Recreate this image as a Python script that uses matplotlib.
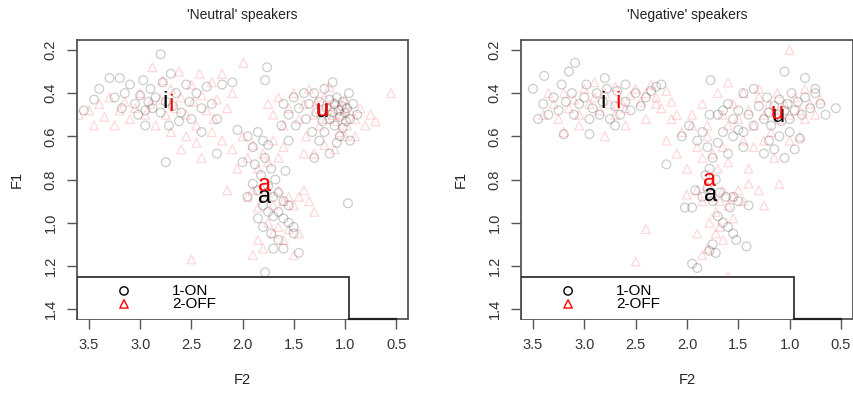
import matplotlib
matplotlib.use("Agg")
import matplotlib.pyplot as plt
from matplotlib.patches import Rectangle

plt.rcParams["font.family"] = ["Liberation Sans", "DejaVu Sans"]

PANEL_TITLES = ["'Neutral' speakers", "'Negative' speakers"]
GROUPS = ["1-ON", "2-OFF"]
VOWELS = ["i", "u", "a"]

# (F2, F1) pairs, per panel / group / vowel
NEU_ON_I = [(3.40, 0.38), (3.30, 0.33), (3.25, 0.42), (3.20, 0.33), (3.18, 0.47), (3.15, 0.40),
            (3.10, 0.36), (3.05, 0.45), (3.02, 0.50), (3.00, 0.41), (2.97, 0.34), (2.95, 0.55),
            (2.92, 0.44), (2.90, 0.38), (2.88, 0.47), (2.85, 0.42), (2.80, 0.22), (2.80, 0.49),
            (2.78, 0.35), (2.75, 0.44), (2.72, 0.55), (2.70, 0.31), (2.68, 0.46), (2.65, 0.40),
            (2.60, 0.49), (2.55, 0.36), (2.52, 0.44), (2.50, 0.52), (2.45, 0.40), (2.40, 0.47),
            (2.35, 0.37), (2.30, 0.45), (2.25, 0.52), (2.20, 0.36), (2.10, 0.35), (3.55, 0.48),
            (2.75, 0.72), (3.45, 0.43), (2.62, 0.53), (2.95, 0.48)]
NEU_ON_U = [(1.60, 0.45), (1.55, 0.50), (1.50, 0.42), (1.48, 0.55), (1.45, 0.47), (1.40, 0.40),
            (1.38, 0.52), (1.35, 0.45), (1.32, 0.58), (1.30, 0.40), (1.28, 0.49), (1.25, 0.44),
            (1.22, 0.53), (1.20, 0.38), (1.18, 0.47), (1.15, 0.43), (1.15, 0.52), (1.12, 0.49),
            (1.10, 0.45), (1.10, 0.55), (1.08, 0.42), (1.06, 0.48), (1.05, 0.51), (1.03, 0.46),
            (1.02, 0.44), (1.00, 0.49), (0.98, 0.47), (0.96, 0.40), (0.95, 0.52), (0.92, 0.45),
            (0.88, 0.50), (1.25, 0.62), (1.15, 0.68), (1.05, 0.60), (0.95, 0.62), (1.30, 0.70),
            (1.12, 0.35), (1.08, 0.63), (1.20, 0.58), (1.02, 0.56), (0.99, 0.53)]
NEU_ON_A = [(2.05, 0.57), (1.95, 0.60), (1.90, 0.65), (1.85, 0.58), (1.80, 0.62), (1.78, 0.70),
            (1.75, 0.64), (1.72, 0.75), (1.82, 0.78), (1.90, 0.82), (1.95, 0.88), (1.85, 0.85),
            (1.75, 0.83), (1.70, 0.88), (1.65, 0.86), (1.60, 0.90), (1.55, 0.92), (1.80, 0.92),
            (1.75, 0.95), (1.70, 0.97), (1.65, 0.95), (1.60, 0.98), (1.55, 1.00), (1.50, 1.02),
            (1.85, 0.98), (1.80, 1.02), (1.72, 1.05), (1.65, 1.08), (1.60, 1.12), (1.50, 1.05),
            (1.45, 1.14), (1.78, 1.23), (1.70, 1.12), (2.25, 0.68), (2.40, 0.58), (1.62, 0.55),
            (1.55, 0.62), (1.58, 0.76), (0.97, 0.91), (1.88, 0.73), (2.00, 0.72), (1.68, 0.80),
            (1.76, 0.28), (1.78, 0.34)]
NEU_OFF_I = [(3.60, 0.50), (3.50, 0.48), (3.45, 0.55), (3.40, 0.45), (3.35, 0.51), (3.30, 0.42),
             (3.25, 0.55), (3.20, 0.48), (3.15, 0.44), (3.10, 0.52), (3.05, 0.47), (3.00, 0.40),
             (2.95, 0.50), (2.90, 0.45), (2.85, 0.55), (2.80, 0.43), (2.75, 0.50), (2.70, 0.38),
             (2.65, 0.47), (2.60, 0.42), (2.55, 0.50), (2.50, 0.36), (2.48, 0.44), (2.45, 0.55),
             (2.42, 0.31), (2.40, 0.41), (2.35, 0.48), (2.30, 0.35), (2.28, 0.52), (2.25, 0.43),
             (2.20, 0.31), (2.15, 0.47), (2.10, 0.40), (2.62, 0.30), (2.78, 0.34), (2.88, 0.28),
             (2.55, 0.60), (2.70, 0.58), (2.45, 0.63)]
NEU_OFF_U = [(1.75, 0.45), (1.70, 0.50), (1.65, 0.42), (1.60, 0.55), (1.55, 0.47), (1.50, 0.40),
             (1.45, 0.52), (1.40, 0.45), (1.38, 0.60), (1.35, 0.38), (1.30, 0.50), (1.28, 0.44),
             (1.25, 0.55), (1.22, 0.48), (1.20, 0.42), (1.18, 0.52), (1.15, 0.46), (1.12, 0.50),
             (1.10, 0.44), (1.08, 0.53), (1.05, 0.47), (1.02, 0.50), (1.00, 0.43), (0.98, 0.55),
             (0.95, 0.48), (0.90, 0.52), (0.85, 0.47), (0.80, 0.55), (0.75, 0.50), (0.70, 0.53),
             (1.20, 0.64), (1.10, 0.66), (1.00, 0.60), (1.30, 0.68), (0.55, 0.40), (1.15, 0.37),
             (0.90, 0.60), (1.40, 0.68), (1.05, 0.58)]
NEU_OFF_A = [(2.30, 0.58), (2.20, 0.62), (2.10, 0.66), (2.05, 0.75), (2.00, 0.60), (1.95, 0.70),
             (1.90, 0.64), (1.85, 0.75), (1.80, 0.68), (1.75, 0.72), (1.70, 0.62), (1.65, 0.70),
             (1.60, 0.65), (1.95, 0.88), (1.90, 0.85), (1.85, 0.93), (1.80, 0.88), (1.75, 0.86),
             (1.70, 0.92), (1.65, 0.85), (1.60, 0.90), (1.55, 0.88), (1.50, 0.92), (1.45, 0.88),
             (1.40, 0.85), (1.35, 0.90), (1.30, 0.95), (1.75, 1.00), (1.70, 1.05), (1.65, 1.02),
             (1.60, 1.08), (1.55, 1.03), (1.85, 1.08), (1.80, 1.12), (1.90, 1.15), (1.50, 1.15),
             (2.50, 1.17), (1.99, 0.26), (2.15, 0.85), (1.45, 1.05), (2.40, 0.70), (2.60, 0.66)]

NEG_ON_I = [(3.50, 0.38), (3.40, 0.45), (3.35, 0.50), (3.30, 0.42), (3.25, 0.48), (3.22, 0.36),
            (3.18, 0.44), (3.15, 0.30), (3.12, 0.40), (3.10, 0.50), (3.05, 0.45), (3.00, 0.42),
            (2.98, 0.36), (2.95, 0.52), (2.92, 0.47), (2.88, 0.40), (2.85, 0.50), (2.82, 0.44),
            (2.78, 0.38), (2.75, 0.52), (2.70, 0.46), (2.68, 0.39), (2.65, 0.50), (2.60, 0.44),
            (2.55, 0.48), (2.50, 0.40), (2.45, 0.46), (2.40, 0.42), (2.35, 0.39), (2.30, 0.37),
            (2.25, 0.36), (3.09, 0.26), (3.20, 0.59), (2.95, 0.59), (2.70, 0.55), (3.45, 0.52),
            (2.80, 0.33), (2.60, 0.36), (3.39, 0.32)]
NEG_ON_U = [(1.70, 0.50), (1.60, 0.45), (1.55, 0.52), (1.50, 0.48), (1.45, 0.40), (1.40, 0.50),
            (1.35, 0.55), (1.30, 0.46), (1.25, 0.52), (1.22, 0.42), (1.20, 0.49), (1.18, 0.55),
            (1.15, 0.46), (1.12, 0.50), (1.10, 0.43), (1.08, 0.53), (1.05, 0.48), (1.02, 0.45),
            (1.00, 0.52), (0.98, 0.40), (0.95, 0.48), (0.92, 0.44), (0.88, 0.50), (0.85, 0.42),
            (0.80, 0.47), (0.75, 0.38), (0.70, 0.45), (0.65, 0.50), (0.55, 0.47), (1.05, 0.30),
            (0.85, 0.33), (1.10, 0.60), (1.00, 0.58), (0.90, 0.61), (1.15, 0.66), (1.05, 0.70),
            (1.25, 0.68), (0.95, 0.66), (1.45, 0.58), (0.75, 0.40), (1.20, 0.62), (1.35, 0.38)]
NEG_ON_A = [(2.05, 0.60), (1.98, 0.55), (1.90, 0.62), (1.85, 0.58), (1.80, 0.65), (1.75, 0.70),
            (1.70, 0.63), (1.65, 0.58), (1.60, 0.68), (1.55, 0.60), (1.50, 0.57), (1.45, 0.65),
            (1.82, 0.78), (1.78, 0.75), (1.72, 0.80), (1.92, 0.85), (1.85, 0.88), (1.80, 0.84),
            (1.75, 0.90), (1.68, 0.86), (1.62, 0.88), (1.58, 0.93), (1.55, 0.88), (1.50, 0.90),
            (1.95, 0.93), (2.02, 0.93), (1.70, 0.97), (1.65, 1.00), (1.60, 1.02), (1.55, 1.05),
            (1.52, 1.08), (1.42, 1.11), (1.75, 1.10), (1.72, 1.14), (1.78, 1.13), (1.95, 1.19),
            (1.90, 1.21), (1.78, 0.50), (1.65, 0.48), (2.20, 0.73), (1.40, 0.92), (1.77, 0.34)]
NEG_OFF_I = [(3.40, 0.50), (3.30, 0.45), (3.25, 0.52), (3.20, 0.40), (3.15, 0.47), (3.10, 0.43),
             (3.05, 0.50), (3.00, 0.38), (2.95, 0.45), (2.90, 0.42), (2.85, 0.48), (2.80, 0.40),
             (2.75, 0.45), (2.70, 0.37), (2.65, 0.43), (2.60, 0.47), (2.55, 0.41), (2.50, 0.38),
             (2.45, 0.44), (2.40, 0.40), (2.35, 0.36), (2.30, 0.42), (2.25, 0.47), (2.20, 0.39),
             (2.15, 0.44), (2.10, 0.50), (3.20, 0.58), (3.05, 0.55), (2.90, 0.35), (2.60, 0.55),
             (2.40, 0.52), (2.80, 0.60), (3.35, 0.40), (2.70, 0.50)]
NEG_OFF_U = [(1.95, 0.50), (1.85, 0.45), (1.80, 0.55), (1.70, 0.40), (1.65, 0.50), (1.60, 0.55),
             (1.55, 0.45), (1.50, 0.52), (1.45, 0.40), (1.40, 0.48), (1.35, 0.55), (1.30, 0.42),
             (1.25, 0.50), (1.20, 0.45), (1.18, 0.58), (1.15, 0.48), (1.12, 0.40), (1.10, 0.52),
             (1.05, 0.45), (1.00, 0.50), (0.95, 0.42), (0.90, 0.48), (0.85, 0.52), (0.80, 0.45),
             (0.75, 0.50), (0.70, 0.43), (1.35, 0.65), (1.25, 0.62), (1.15, 0.70), (1.00, 0.62),
             (0.90, 0.60), (1.40, 0.75), (1.10, 0.82), (1.00, 0.20), (1.30, 0.38), (1.60, 0.35),
             (0.85, 0.38), (1.45, 0.62)]
NEG_OFF_A = [(2.30, 0.45), (2.15, 0.52), (2.05, 0.58), (1.95, 0.55), (1.90, 0.65), (1.85, 0.70),
             (1.80, 0.60), (1.75, 0.68), (1.70, 0.75), (1.65, 0.65), (1.60, 0.72), (2.10, 0.68),
             (2.00, 0.75), (1.90, 0.85), (1.85, 0.90), (1.80, 0.83), (1.75, 0.88), (1.72, 0.95),
             (1.68, 0.90), (1.65, 0.85), (1.60, 0.92), (1.55, 0.88), (1.50, 0.85), (1.45, 0.90),
             (1.40, 0.82), (1.30, 0.85), (1.25, 0.92), (1.78, 1.00), (1.72, 1.05), (1.68, 1.02),
             (1.65, 1.08), (1.80, 1.12), (1.85, 1.15), (1.90, 1.05), (1.55, 0.98), (2.40, 1.03),
             (2.50, 1.18), (1.60, 1.25), (2.00, 0.87), (2.20, 0.62)]

# vowel label positions (mean F2, F1) per panel, group order ON, OFF; vowel order i, u, a
NEU_MEANS_ON = [(2.76, 0.44), (1.22, 0.485), (1.78, 0.88)]
NEU_MEANS_OFF = [(2.70, 0.455), (1.22, 0.48), (1.78, 0.825)]
NEG_MEANS_ON = [(2.82, 0.44), (1.11, 0.505), (1.77, 0.87)]
NEG_MEANS_OFF = [(2.67, 0.44), (1.12, 0.49), (1.78, 0.80)]

PANELS = [
    ([NEU_ON_I + NEU_ON_U + NEU_ON_A, NEU_OFF_I + NEU_OFF_U + NEU_OFF_A], [NEU_MEANS_ON, NEU_MEANS_OFF]),
    ([NEG_ON_I + NEG_ON_U + NEG_ON_A, NEG_OFF_I + NEG_OFF_U + NEG_OFF_A], [NEG_MEANS_ON, NEG_MEANS_OFF]),
]

COLORS = ["black", "red"]
MARKERS = ["o", "^"]
ALPHAS = [0.2, 0.15]
XTICKS = [3.5, 3.0, 2.5, 2.0, 1.5, 1.0, 0.5]
YTICKS = [0.2, 0.4, 0.6, 0.8, 1.0, 1.2, 1.4]
AX_GREY = "#555555"

fig = plt.figure(figsize=(8.54, 3.94), dpi=100)
positions = [[0.0902, 0.1904, 0.3876, 0.708], [0.6100, 0.1904, 0.3888, 0.708]]

for pos, title, (points, means) in zip(positions, PANEL_TITLES, PANELS):
    ax = fig.add_axes(pos)
    for pts, col, mk, al in zip(points, COLORS, MARKERS, ALPHAS):
        xs = [p[0] for p in pts]
        ys = [p[1] for p in pts]
        ax.scatter(xs, ys, s=40, marker=mk, facecolors="none", edgecolors=col,
                   linewidths=0.9, alpha=al)
    for mlist, col in zip(means, COLORS):
        for v, (mx, my) in zip(VOWELS, mlist):
            ax.text(mx, my, v, color=col, fontsize=17, ha="center", va="center")

    ax.set_xlim(3.617, 0.383)
    ax.set_ylim(1.446, 0.154)
    ax.set_xticks(XTICKS)
    ax.set_xticklabels([f"{t:.1f}" for t in XTICKS])
    ax.set_yticks(YTICKS)
    ax.set_yticklabels([f"{t:.1f}" for t in YTICKS], rotation=90, va="center")
    ax.tick_params(colors=AX_GREY, labelcolor="#333333", labelsize=10.5, length=7, width=1.0, pad=7)
    for sp in ax.spines.values():
        sp.set_color(AX_GREY)
        sp.set_linewidth(1.3)
    ax.set_title(title, fontsize=10, color="#222222", pad=15)
    ax.set_xlabel("F2", fontsize=10.5, color="#222222", labelpad=15)
    ax.set_ylabel("F1", fontsize=10.5, color="#222222", labelpad=14)

    # legend box in R style
    ax.add_patch(Rectangle((0.958, 1.251), 3.617 - 0.958, 0.3, facecolor="white",
                           edgecolor="#333333", linewidth=1.3, zorder=3))
    ax.plot([0.958, 0.5], [1.446, 1.446], color="#222222", linewidth=1.6, zorder=4, clip_on=False)
    ax.scatter([3.158], [1.316], s=36, marker="o", facecolors="none", edgecolors="black",
               linewidths=1.0, zorder=5)
    ax.scatter([3.158], [1.376], s=36, marker="^", facecolors="none", edgecolors="red",
               linewidths=1.0, zorder=5)
    ax.text(2.69, 1.316, GROUPS[0], fontsize=11, va="center", ha="left", zorder=5)
    ax.text(2.69, 1.376, GROUPS[1], fontsize=11, va="center", ha="left", zorder=5)

fig.savefig("out.png", dpi=100)
